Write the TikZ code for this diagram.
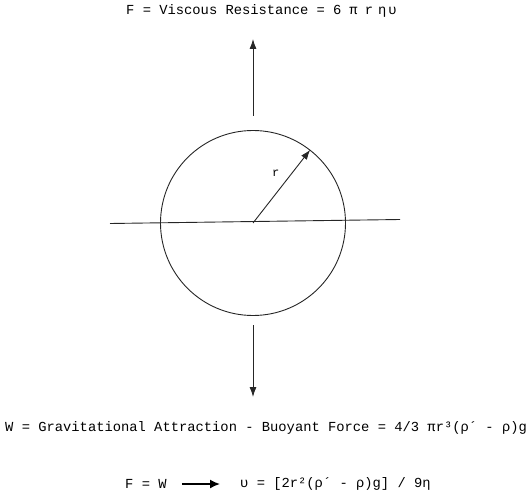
\documentclass[tikz,border=0pt]{standalone}
\usepackage{fontspec}
\newfontfamily\monofam{Liberation Mono}
\usetikzlibrary{arrows.meta}
\begin{document}
\begin{tikzpicture}[x=1pt,y=-1pt,
  txt/.style={inner sep=0pt, font=\monofam\fontsize{13.8}{16}\selectfont, anchor=west},
  ln/.style={line width=0.9pt, black!85},
  arr/.style={ln, -{Latex[length=10pt,width=7pt]}},
  boldarr/.style={line width=1.6pt, -{Latex[length=10pt,width=9pt]}}
]
\useasboundingbox (0,0) rectangle (532,497);
% sphere
\node[draw, line width=0.9pt, black!85, circle, minimum size=185pt, inner sep=0pt] (ball) at (253,223) {};
% horizontal line through the sphere
\coordinate (hl) at (110,223.5);
\coordinate (hr) at (400,219.5);
\draw[ln] (hl) -- (hr);
% radius
\draw[arr] (ball.center) -- (ball.52);
\node[txt, font=\monofam\fontsize{12}{14}\selectfont] (rlab) at (272,173) {r};
% force arrows
\coordinate (upS) at (253,116);
\coordinate (upT) at (253,39);
\draw[arr] (upS) -- (upT);
\coordinate (dnS) at (253,325);
\coordinate (dnT) at (253,397);
\draw[arr] (dnS) -- (dnT);
% texts
\node[txt] (ftop) at (126,11) {F = Viscous Resistance = 6\hspace{8pt}π\hspace{7pt}r\hspace{5pt}η\hspace{2pt}υ};
\node[txt] (wline) at (5,428) {W = Gravitational Attraction - Buoyant Force = 4/3  πr³(ρ´ - ρ)g};
\node[txt] (fw) at (125,484) {F = W};
\node[txt] (vel) at (240,484) {υ  = [2r²(ρ´ - ρ)g]  /  9η};
\draw[boldarr] ([xshift=15pt]fw.east) -- ([xshift=-20pt]vel.west);
\end{tikzpicture}
\end{document}
